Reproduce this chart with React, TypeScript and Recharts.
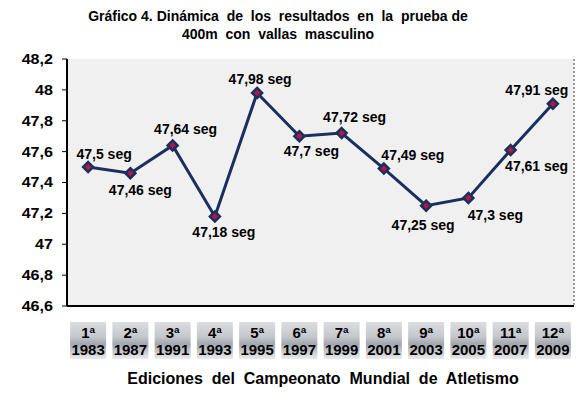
import React from "react";
import { LineChart, Line, XAxis, YAxis, ReferenceArea } from "recharts";

const editions = ["1ª", "2ª", "3ª", "4ª", "5ª", "6ª", "7ª", "8ª", "9ª", "10ª", "11ª", "12ª"];
const years = ["1983", "1987", "1991", "1993", "1995", "1997", "1999", "2001", "2003", "2005", "2007", "2009"];
const times = [47.5, 47.46, 47.64, 47.18, 47.98, 47.7, 47.72, 47.49, 47.25, 47.3, 47.61, 47.91];
const yTicks = [46.6, 46.8, 47, 47.2, 47.4, 47.6, 47.8, 48, 48.2];

// label placement (dx, dy from the point to the label centre)
const labelOffsets: [number, number][] = [
  [16, -13], [10, 17], [13, -16], [9, 16], [3, -14], [12, 15],
  [13, -16], [29, -14], [-3, 19], [27, 17], [26, 16], [-16, -14],
];

const data = years.map((y, i) => ({ year: y, edition: editions[i], time: times[i] }));

const FONT = "'Liberation Sans', Arial, sans-serif";
const LINE = "#1b2f5e";

const fmt = (v: number) => String(v).replace(".", ",");

const XTick = (props: any) => {
  const { x, y, index } = props;
  const w = 36;
  return (
    <g>
      <rect x={x - w / 2} y={y + 16} width={w} height={37} fill="url(#boxGrad)" />
      <text x={x} y={y + 32} textAnchor="middle" fontFamily={FONT} fontWeight="bold" fontSize={15} fill="#000">
        {editions[index]}
      </text>
      <text x={x} y={y + 49} textAnchor="middle" fontFamily={FONT} fontWeight="bold" fontSize={15} fill="#000">
        {years[index]}
      </text>
    </g>
  );
};

const YTick = (props: any) => {
  const { x, y, payload } = props;
  return (
    <text
      transform={`translate(${x},${y}) scale(1.15,1)`}
      x={0}
      y={0}
      dy="0.35em"
      textAnchor="end"
      fontFamily={FONT}
      fontWeight="bold"
      fontSize={14}
      fill="#000"
    >
      {fmt(payload.value)}
    </text>
  );
};

const Dot = (props: any) => {
  const { cx, cy } = props;
  if (cx == null || cy == null) return null;
  const r = 5;
  return (
    <polygon
      points={`${cx},${cy - r} ${cx + r},${cy} ${cx},${cy + r} ${cx - r},${cy}`}
      fill="#b5173f"
      stroke={LINE}
      strokeWidth={2.5}
    />
  );
};

const PointLabel = (props: any) => {
  const { x, y, index, value } = props;
  const [dx, dy] = labelOffsets[index] || [0, -14];
  return (
    <text
      x={x + dx}
      y={y + dy}
      dy="0.35em"
      textAnchor="middle"
      fontFamily={FONT}
      fontWeight="bold"
      fontSize={14}
      fill="#000"
    >
      {fmt(value)} seg
    </text>
  );
};

export default function App() {
  return (
    <div style={{ position: "absolute", left: 0, top: 0, width: 585, height: 396, background: "#fff", fontFamily: FONT }}>
      <div
        style={{
          position: "absolute",
          left: 278,
          top: 7,
          transform: "translateX(-50%)",
          textAlign: "center",
          fontWeight: "bold",
          fontSize: 14,
          lineHeight: "18px",
          whiteSpace: "pre",
          color: "#000",
        }}
      >
        {"Gráfico 4. Dinámica  de  los  resultados  en  la  prueba de\n400m  con  vallas  masculino"}
      </div>
      <LineChart width={585} height={396} data={data} margin={{ top: 59, right: 10, bottom: 30, left: 7 }}>
        <defs>
          <linearGradient id="boxGrad" x1="0" y1="0" x2="0" y2="1">
            <stop offset="0%" stopColor="#dcdde0" />
            <stop offset="40%" stopColor="#c4c7cc" />
            <stop offset="60%" stopColor="#a2a6ae" />
            <stop offset="100%" stopColor="#ebebeb" />
          </linearGradient>
        </defs>
        <ReferenceArea y1={46.6} y2={48.2} fill="#f0f0f0" fillOpacity={1} stroke="none" ifOverflow="visible" />
        <XAxis
          dataKey="year"
          type="category"
          scale="band"
          height={60}
          axisLine={{ stroke: "#000", strokeWidth: 2 }}
          tickLine={false}
          tickSize={0}
          tickMargin={0}
          interval={0}
          tick={<XTick />}
        />
        <XAxis
          xAxisId="top"
          dataKey="year"
          scale="band"
          orientation="top"
          height={0}
          axisLine={{ stroke: "#444", strokeDasharray: "2 2" }}
          tick={false}
          tickLine={false}
        />
        <YAxis
          domain={[46.6, 48.2]}
          ticks={yTicks}
          width={60}
          axisLine={{ stroke: "#000", strokeWidth: 2 }}
          tickLine={{ stroke: "#000" }}
          tickSize={5}
          tickMargin={9}
          tick={<YTick />}
          interval={0}
        />
        <YAxis
          yAxisId="right"
          orientation="right"
          width={1}
          domain={[46.6, 48.2]}
          axisLine={{ stroke: "#444", strokeDasharray: "2 2" }}
          tick={false}
          tickLine={false}
        />
        <Line
          dataKey="time"
          stroke={LINE}
          strokeWidth={3}
          dot={<Dot />}
          activeDot={false}
          label={<PointLabel />}
          isAnimationActive={false}
        />
      </LineChart>
      <div
        style={{
          position: "absolute",
          left: 323,
          top: 370,
          transform: "translateX(-50%)",
          fontWeight: "bold",
          fontSize: 16,
          lineHeight: "18px",
          whiteSpace: "pre",
          color: "#000",
        }}
      >
        {"Ediciones  del  Campeonato  Mundial  de  Atletismo"}
      </div>
    </div>
  );
}
